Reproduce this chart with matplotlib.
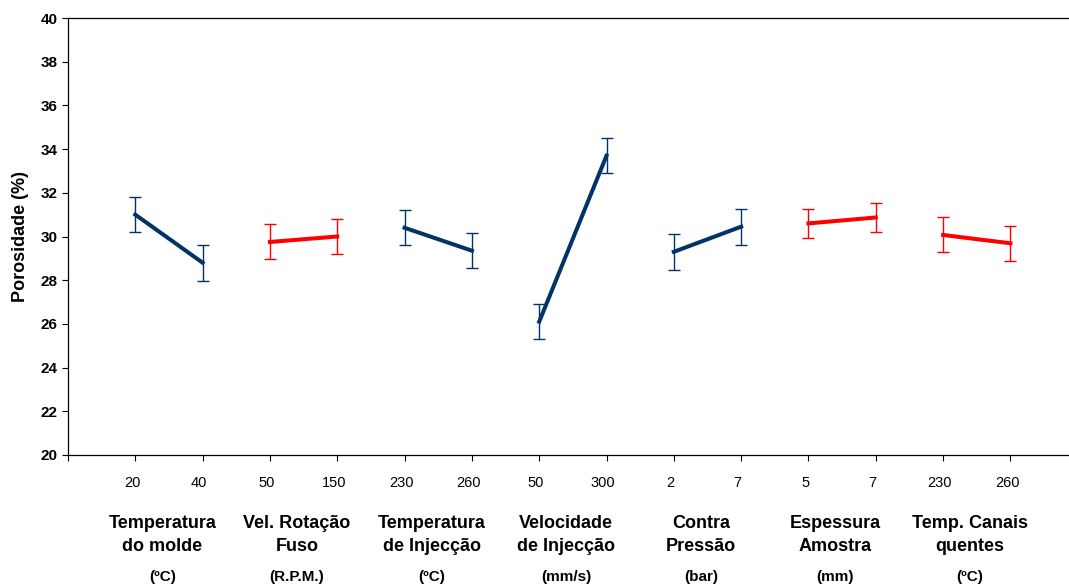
import numpy as np
import matplotlib
matplotlib.use("Agg")
import matplotlib.pyplot as plt
import matplotlib.transforms as mtransforms

plt.rcParams["font.family"] = ["Liberation Sans", "DejaVu Sans"]

# Main effects on porosity: two levels per factor
factor_names = ["Temperatura\ndo molde", "Vel. Rotação\nFuso", "Temperatura\nde Injecção",
                "Velocidade\nde Injecção", "Contra\nPressão", "Espessura\nAmostra",
                "Temp. Canais\nquentes"]
factor_units = ["(ºC)", "(R.P.M.)", "(ºC)", "(mm/s)", "(bar)", "(mm)", "(ºC)"]
level_labels = [["20", "40"], ["50", "150"], ["230", "260"], ["50", "300"],
                ["2", "7"], ["5", "7"], ["230", "260"]]
porosity = [[31.0, 28.8], [29.75, 30.0], [30.4, 29.35], [26.1, 33.7],
            [29.3, 30.45], [30.6, 30.87], [30.07, 29.69]]
porosity_err = [[0.8, 0.82], [0.8, 0.82], [0.8, 0.8], [0.8, 0.8],
                [0.82, 0.82], [0.66, 0.66], [0.8, 0.8]]
significant = [True, False, True, True, True, False, False]

C_SIG = "#003366"
C_NS = "#FF0000"

fig = plt.figure(figsize=(10.69, 5.87), dpi=100)
ax = fig.add_axes([0.0636, 0.2249, 0.9364, 0.7444])

for i in range(len(factor_names)):
    x = np.array([2 * i + 1, 2 * i + 2])
    color = C_SIG if significant[i] else C_NS
    ax.errorbar(x, porosity[i], yerr=porosity_err[i], color=color, linewidth=2.9,
                ecolor=color, elinewidth=1.0, capsize=4.5, capthick=1.0, zorder=3)

n_pts = 2 * len(factor_names)
ax.set_xlim(0, 14.87)
ax.set_ylim(20, 40)
ax.set_xticks(np.arange(0, n_pts + 1))
ax.set_xticklabels([])
ax.set_yticks(np.arange(20, 41, 2))
ax.tick_params(axis="y", labelsize=11, length=4, width=0.8, direction="out")
ax.tick_params(axis="x", length=4, width=0.8, direction="out")
for lbl in ax.get_yticklabels():
    lbl.set_fontweight("bold")
ax.set_ylabel("Porosidade (%)", fontsize=13, fontweight="bold", labelpad=8)

ax.spines["right"].set_visible(False)
for s in ["left", "bottom", "top"]:
    ax.spines[s].set_linewidth(0.9)

trans = mtransforms.blended_transform_factory(ax.transData, fig.transFigure)
for i in range(len(factor_names)):
    for j, lab in enumerate(level_labels[i]):
        ax.text(2 * i + 1 + j - 0.05, 1 - 483 / 587, lab, transform=trans,
                ha="center", va="center", fontsize=10.5)
    ax.text(2 * i + 1.5 - 0.1, 1 - 535 / 587, factor_names[i], transform=trans,
            ha="center", va="center", fontsize=13, fontweight="bold", linespacing=1.4)
    ax.text(2 * i + 1.5 - 0.1, 1 - 577 / 587, factor_units[i], transform=trans,
            ha="center", va="center", fontsize=11, fontweight="bold")

fig.savefig("out.png", dpi=100)
